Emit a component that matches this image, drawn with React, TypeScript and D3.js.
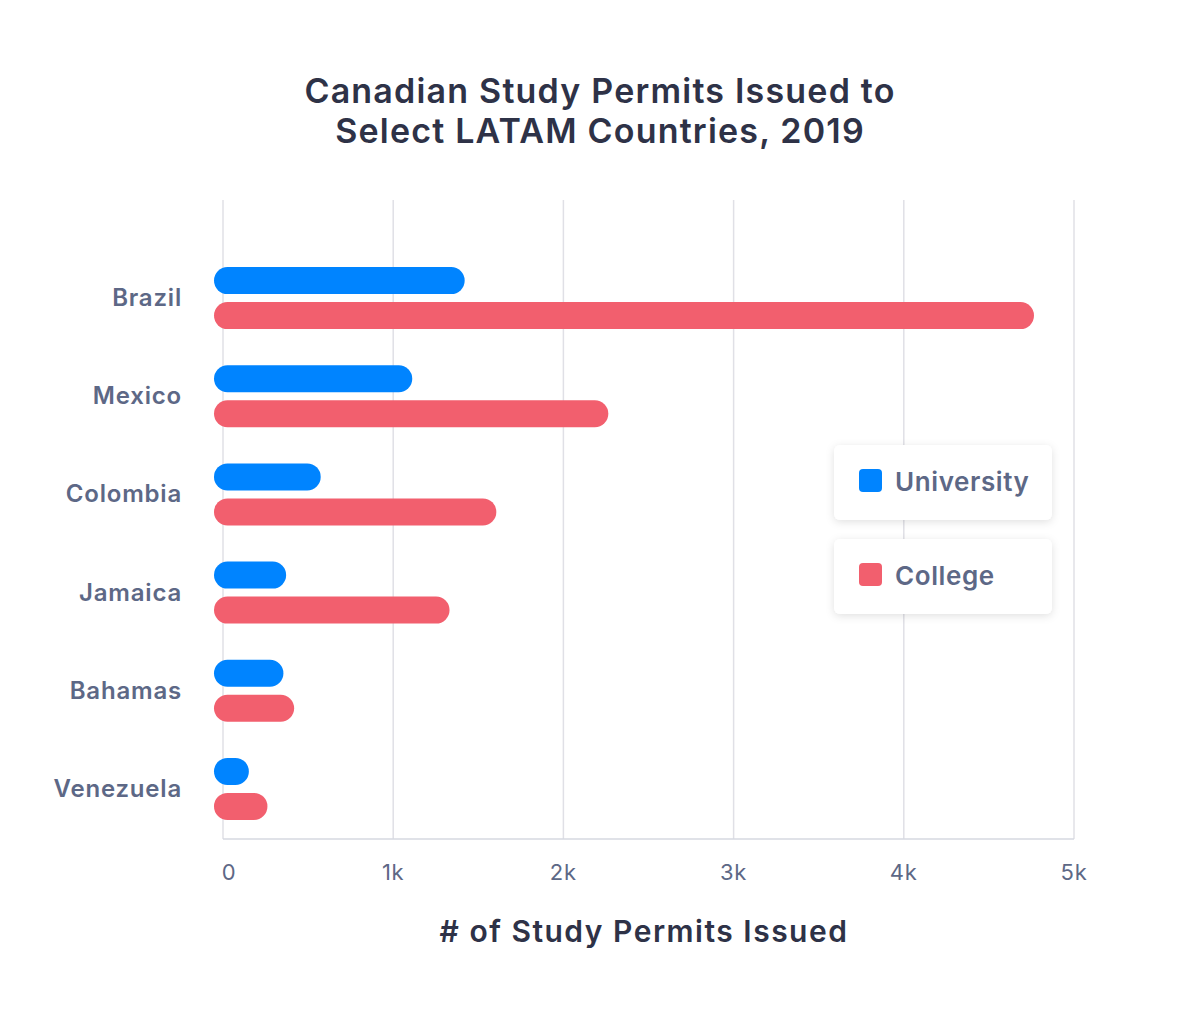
import React, { useRef, useEffect } from "react";
import * as d3 from "d3";

const countries = ["Brazil", "Mexico", "Colombia", "Jamaica", "Bahamas", "Venezuela"];
const university = [1420, 1112, 574, 371, 355, 152];
const college = [4765, 2264, 1606, 1331, 418, 261];
const xTicks = [0, 1000, 2000, 3000, 4000, 5000];
const tickLabels = ["0", "1k", "2k", "3k", "4k", "5k"];
const seriesNames = ["University", "College"];
const seriesColors = ["#0084ff", "#f25f6e"];

const FONT = "Inter, 'Open Sans', sans-serif";

const App = () => {
    const canvas = useRef<HTMLDivElement>(null);

    const width = 1201;
    const height = 1020;
    const plot = { left: 223, right: 1074, top: 200, bottom: 839 };

    useEffect(() => {
        const root = d3.select(canvas.current);
        root.selectAll("*").remove();

        const svg = root.append("svg")
            .attr("width", width)
            .attr("height", height)
            .style("position", "absolute")
            .style("left", 0)
            .style("top", 0)
            .style("background", "#fff");

        const defs = svg.append("defs");
        const f = defs.append("filter").attr("id", "shadow")
            .attr("x", "-20%").attr("y", "-30%").attr("width", "140%").attr("height", "160%");
        f.append("feDropShadow").attr("dx", 0).attr("dy", 2).attr("stdDeviation", 4)
            .attr("flood-color", "#000").attr("flood-opacity", 0.12);

        const x = d3.scaleLinear().domain([0, 5000]).range([plot.left, plot.right]);
        const y = d3.scaleBand().domain(countries).range([249, 838]);
        const barH = 27;
        const gap = 8;

        // title
        const title = svg.append("text")
            .attr("text-anchor", "middle")
            .attr("font-family", FONT)
            .attr("font-weight", 600)
            .attr("font-size", 34)
            .attr("letter-spacing", 1.2)
            .attr("fill", "#2e3247");
        title.append("tspan").attr("x", 600).attr("y", 103).text("Canadian Study Permits Issued to");
        title.append("tspan").attr("x", 600).attr("y", 143).text("Select LATAM Countries, 2019");

        // grid
        svg.append("g").selectAll("line")
            .data(xTicks)
            .enter().append("line")
            .attr("x1", d => x(d)).attr("x2", d => x(d))
            .attr("y1", plot.top).attr("y2", plot.bottom)
            .attr("stroke", "#e0e0e6").attr("stroke-width", 1.5);

        svg.append("line")
            .attr("x1", plot.left).attr("x2", plot.right)
            .attr("y1", plot.bottom).attr("y2", plot.bottom)
            .attr("stroke", "#d6d8e0").attr("stroke-width", 1.5);

        // tick labels
        svg.append("g").selectAll("text")
            .data(xTicks)
            .enter().append("text")
            .attr("x", (d, i) => x(d) + (i === 0 ? 6 : 0))
            .attr("y", 880)
            .attr("text-anchor", "middle")
            .attr("font-family", FONT)
            .attr("font-size", 22)
            .attr("letter-spacing", 0.8)
            .attr("fill", "#5d6886")
            .text((d, i) => tickLabels[i]);

        // axis title
        svg.append("text")
            .attr("x", 644).attr("y", 942)
            .attr("text-anchor", "middle")
            .attr("font-family", FONT)
            .attr("font-weight", 600)
            .attr("font-size", 30)
            .attr("letter-spacing", 1.5)
            .attr("fill", "#2e3247")
            .text("# of Study Permits Issued");

        // category labels
        svg.append("g").selectAll("text")
            .data(countries)
            .enter().append("text")
            .attr("x", 182)
            .attr("y", d => (y(d) as number) + y.bandwidth() / 2 + 8)
            .attr("text-anchor", "end")
            .attr("font-family", FONT)
            .attr("font-weight", 600)
            .attr("font-size", 24)
            .attr("letter-spacing", 0.8)
            .attr("fill", "#5d6886")
            .text(d => d);

        // bars
        const series = [university, college];
        series.forEach((vals, s) => {
            svg.append("g").selectAll("rect")
                .data(vals)
                .enter().append("rect")
                .attr("x", x(0) - 9)
                .attr("width", d => x(d) - x(0) + 9)
                .attr("y", (d, i) => {
                    const c = (y(countries[i]) as number) + y.bandwidth() / 2;
                    return s === 0 ? c - gap / 2 - barH : c + gap / 2;
                })
                .attr("height", barH)
                .attr("rx", barH / 2)
                .attr("fill", seriesColors[s]);
        });

        // legend
        const legend = svg.append("g").selectAll("g")
            .data(seriesNames)
            .enter().append("g")
            .attr("transform", (d, i) => `translate(834,${445 + i * 94})`);
        legend.append("rect")
            .attr("width", 218).attr("height", 75).attr("rx", 6)
            .attr("fill", "#fff")
            .attr("filter", "url(#shadow)");
        legend.append("rect")
            .attr("x", 25).attr("y", 24).attr("width", 23).attr("height", 23).attr("rx", 4)
            .attr("fill", (d, i) => seriesColors[i]);
        legend.append("text")
            .attr("x", 61).attr("y", 46)
            .attr("font-family", FONT)
            .attr("font-weight", 600)
            .attr("font-size", 26)
            .attr("letter-spacing", 0.6)
            .attr("fill", "#5d6886")
            .text(d => d);
    }, []);

    return <div ref={canvas}></div>;
};

export default App;
